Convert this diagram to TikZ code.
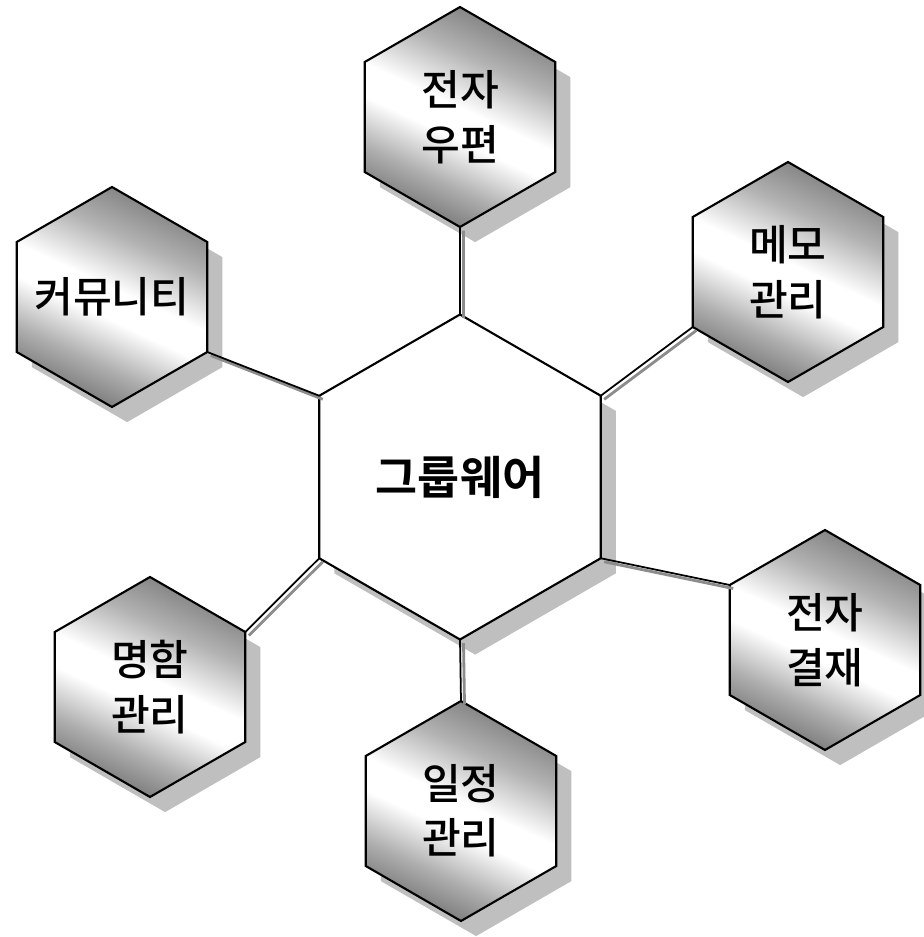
\documentclass[tikz,border=0pt]{standalone}
\usepackage{fontspec}
\newfontfamily\kor{Noto Sans CJK KR}[BoldFont={Noto Sans CJK KR Bold}]
\newfontfamily\korm{Noto Sans CJK KR Medium}
\usepackage{tikz}
\usetikzlibrary{shapes.geometric}
\usetikzlibrary{shadows}
\pgfdeclareverticalshading{hexshade}{100bp}{color(0bp)=(black!60); color(22bp)=(black!60);
  color(34bp)=(black!32); color(45bp)=(white); color(52bp)=(white);
  color(64bp)=(black!30); color(78bp)=(black!55); color(100bp)=(black!55)}
\tikzset{
hexa/.style={regular polygon, regular polygon sides=6, shape border rotate=30,
  draw=black, line width=0.6pt, inner sep=0pt, outer sep=0pt, align=center},
hexshadow/.style={drop shadow={shadow xshift=4.3pt, shadow yshift=-4.3pt, fill=black!25, opacity=1}},
hub/.style={hexa, hexshadow, minimum size=3.25cm, fill=white,
  font=\kor\bfseries\fontsize{13pt}{16pt}\selectfont},
item/.style={hexa, hexshadow, minimum size=2.2cm,
  shading=hexshade, shading angle=-25,
  font=\korm\fontsize{12pt}{15.5pt}\selectfont},
link/.style={black, line width=0.5pt,
  preaction={draw=black!45, line width=0.8pt, transform canvas={shift={(1pt,-1pt)}}}}
}

\begin{document}
\begin{tikzpicture}
    \useasboundingbox (0,0) rectangle (9.24,9.37);

                \node[hub] (G) at (4.60,4.60) {그룹웨어};
                \node[item] (A) at (4.60,8.20) {전자\\우편};
                \node[item] (B) at (7.88,6.65) {메모\\관리};
                \node[item] (C) at (8.25,2.97) {전자\\결재};
                \node[item] (D) at (4.61,1.26) {일정\\관리};
                \node[item] (E) at (1.50,2.50) {명함\\관리};
                \node[item] (F) at (1.12,6.40) {\makebox[0pt]{커뮤니티}};

                \draw[link] (A.270) -- (G.90);
                \draw[link] (B.210) -- (G.30);
                \draw[link] (C.150) -- (G.330);
                \draw[link] (D.90) -- (G.270);
                \draw[link] (E.30) -- (G.210);
                \draw[link] (F.330) -- (G.150);

\end{tikzpicture}
\end{document}
